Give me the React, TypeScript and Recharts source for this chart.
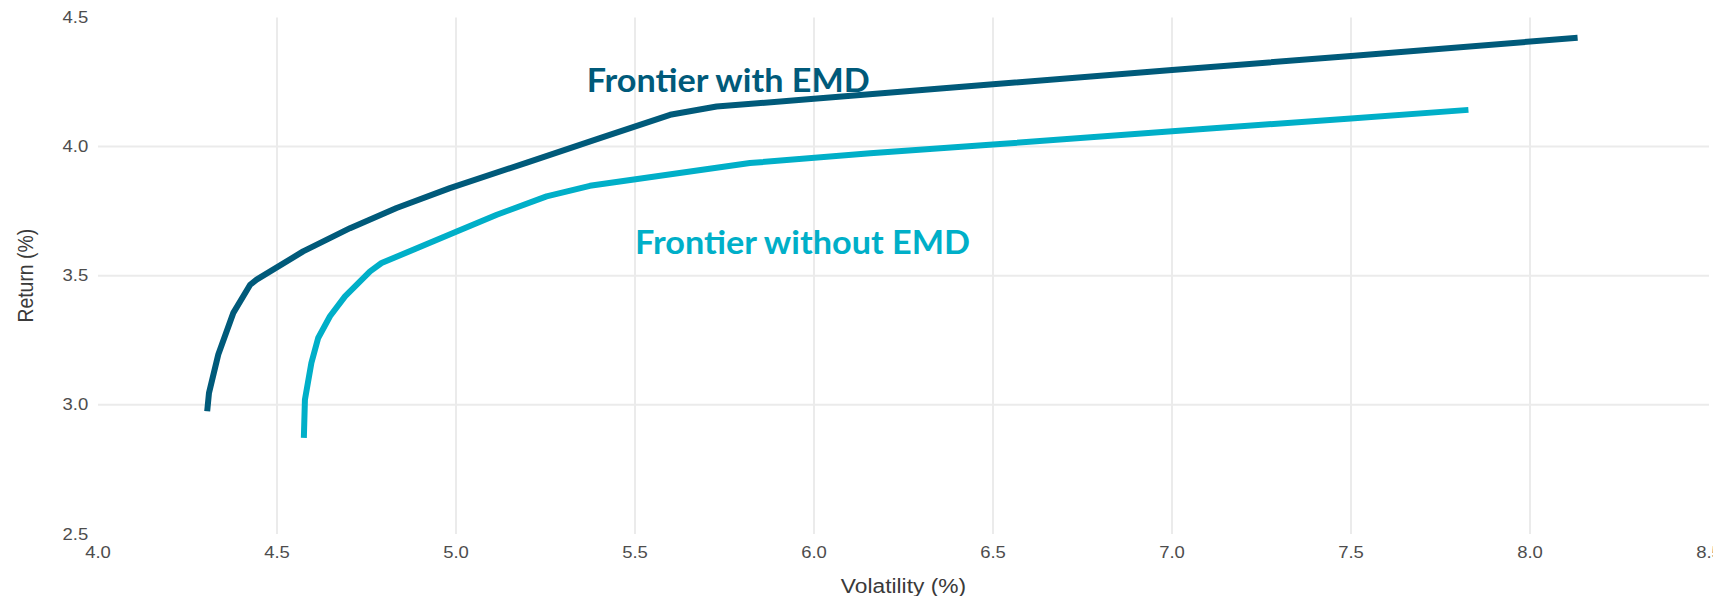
import React from 'react';
import { LineChart, Line, XAxis, YAxis, CartesianGrid, ReferenceDot, Label } from 'recharts';

// Frontier with EMD (volatility %, return %)
const withEmdVol = [4.305, 4.31, 4.336, 4.378, 4.425, 4.443, 4.573, 4.704, 4.834, 4.983, 5.2, 5.4, 5.598, 5.728, 6.0, 6.5, 7.0, 7.5, 8.133];
const withEmdRet = [2.975, 3.046, 3.195, 3.356, 3.465, 3.485, 3.594, 3.684, 3.762, 3.839, 3.939, 4.032, 4.123, 4.155, 4.185, 4.241, 4.296, 4.351, 4.421];

// Frontier without EMD
const withoutEmdVol = [4.575, 4.578, 4.596, 4.615, 4.648, 4.69, 4.76, 4.792, 5.002, 5.114, 5.253, 5.374, 5.821, 6.157, 6.5, 7.0, 7.5, 7.828];
const withoutEmdRet = [2.872, 3.02, 3.162, 3.259, 3.343, 3.42, 3.517, 3.549, 3.671, 3.736, 3.807, 3.848, 3.936, 3.974, 4.008, 4.059, 4.109, 4.142];

const xTicks = [4.0, 4.5, 5.0, 5.5, 6.0, 6.5, 7.0, 7.5, 8.0, 8.5];
const yTicks = [2.5, 3.0, 3.5, 4.0, 4.5];
const gridX = [4.5, 5.0, 5.5, 6.0, 6.5, 7.0, 7.5, 8.0];
const gridY = [3.0, 3.5, 4.0];

const annotationTexts = ['Frontier with EMD', 'Frontier without EMD'];
const annotationVol = [5.365, 5.5];
const annotationRet = [4.213, 3.585];

const xTitle = 'Volatility (%)';
const yTitle = 'Return (%)';

const withEmd = withEmdVol.map((x, i) => ({ x, y: withEmdRet[i] }));
const withoutEmd = withoutEmdVol.map((x, i) => ({ x, y: withoutEmdRet[i] }));

const DARK = '#005A7A';
const LIGHT = '#00AFC8';
const VS = 0.85;
const FONT = '"Liberation Sans", Arial, sans-serif';

const XTick = (props: any) => {
  const { x, y, payload } = props;
  return (
    <g transform={`translate(${x},${y + 24.3}) scale(1,${VS})`}>
      <text x={0} y={0} textAnchor="middle" fontFamily={FONT} fontSize={18.5} fill="#4d4d4d">
        {Number(payload.value).toFixed(1)}
      </text>
    </g>
  );
};

const YTick = (props: any) => {
  const { x, y, payload } = props;
  return (
    <g transform={`translate(${x - 9.7},${y + 5.6}) scale(1,${VS})`}>
      <text x={0} y={0} textAnchor="end" fontFamily={FONT} fontSize={18.5} fill="#4d4d4d">
        {Number(payload.value).toFixed(1)}
      </text>
    </g>
  );
};

const XTitle = (props: any) => {
  const vb = props.viewBox || {};
  const cx = vb.x + vb.width / 2;
  return (
    <g transform={`translate(${cx},${vb.y + 58.7}) scale(1,${VS})`}>
      <text x={0} y={0} textAnchor="middle" fontFamily={FONT} fontSize={22.8} fill="#3a3a3a">
        {xTitle}
      </text>
    </g>
  );
};

const YTitle = (props: any) => {
  const vb = props.viewBox || {};
  const cy = vb.y + vb.height / 2;
  return (
    <g transform={`translate(33,${cy}) scale(1,${VS}) rotate(-90)`}>
      <text x={0} y={0} textAnchor="middle" fontFamily={FONT} fontSize={22.8} fill="#3a3a3a">
        {yTitle}
      </text>
    </g>
  );
};

const scaleOf = (axis: any, v: number) => {
  const s = axis && axis.scale;
  if (!s) return 0;
  if (typeof s === 'function') return s(v);
  if (typeof s.map === 'function') return s.map(v);
  return 0;
};

const makeAnnotation = (text: string, color: string, len: number) => (p: any) => (
  <text
    x={p.cx}
    y={p.cy}
    fontFamily='Lato, "Open Sans", sans-serif'
    fontWeight={700}
    fontSize={33}
    fill={color}
    textLength={len}
    lengthAdjust="spacingAndGlyphs"
  >
    {text}
  </text>
);

export default function App() {
  return (
    <div style={{ position: 'absolute', left: 0, top: 0, width: 1713, height: 596, background: '#fff' }}>
      <LineChart width={1713} height={596} margin={{ top: 17.4, right: 4, bottom: 0, left: 0 }}>
        <CartesianGrid
          stroke="#ebebeb"
          strokeWidth={2}
          verticalCoordinatesGenerator={({ xAxis }: any) => gridX.map((v) => scaleOf(xAxis, v))}
          horizontalCoordinatesGenerator={({ yAxis }: any) => gridY.map((v) => scaleOf(yAxis, v))}
        />
        <XAxis
          type="number"
          dataKey="x"
          domain={[4, 8.5]}
          ticks={xTicks}
          interval={0}
          allowDataOverflow
          axisLine={false}
          tickLine={false}
          tickSize={0}
          tickMargin={0}
          height={62}
          tick={<XTick />}
        >
          <Label content={<XTitle />} />
        </XAxis>
        <YAxis
          type="number"
          dataKey="y"
          domain={[2.5, 4.5]}
          ticks={yTicks}
          interval={0}
          allowDataOverflow
          axisLine={false}
          tickLine={false}
          tickSize={0}
          tickMargin={0}
          width={98}
          tick={<YTick />}
        >
          <Label content={<YTitle />} />
        </YAxis>
        <Line
          data={withEmd}
          dataKey="y"
          type="linear"
          stroke={DARK}
          strokeWidth={6}
          strokeLinejoin="round"
          dot={false}
          activeDot={false}
          isAnimationActive={false}
        />
        <Line
          data={withoutEmd}
          dataKey="y"
          type="linear"
          stroke={LIGHT}
          strokeWidth={6}
          strokeLinejoin="round"
          dot={false}
          activeDot={false}
          isAnimationActive={false}
        />
        <ReferenceDot
          x={annotationVol[0]}
          y={annotationRet[0]}
          r={0}
          shape={makeAnnotation(annotationTexts[0], DARK, 283)}
        />
        <ReferenceDot
          x={annotationVol[1]}
          y={annotationRet[1]}
          r={0}
          shape={makeAnnotation(annotationTexts[1], LIGHT, 335)}
        />
      </LineChart>
    </div>
  );
}
